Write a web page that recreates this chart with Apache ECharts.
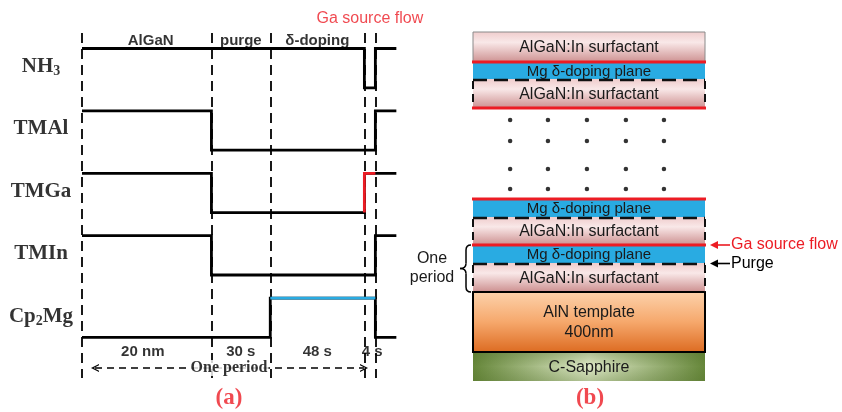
<!DOCTYPE html>
<html><head><meta charset="utf-8">
<script src="https://cdn.jsdelivr.net/npm/echarts@6/dist/echarts.min.js"></script>
<style>html,body{margin:0;padding:0;background:#fff}#c{width:842px;height:412px}</style>
</head><body><div id="c"></div>
<script>
// ---------------- data ----------------
// (a) pulse sequence: phases of one period (schematic time units, purge and δ-doping in s)
const phaseNames  = ['AlGaN', 'purge', 'δ-doping'];
const phaseSpan   = [66, 30, 48, 5.6, 10.7];          // AlGaN, purge, δ-doping, Ga flow, next period
const phaseBottom = ['20 nm', '30 s', '48 s', '4 s'];
const signals     = ['NH3', 'TMAl', 'TMGa', 'TMIn', 'Cp2Mg'];
const levelNH3    = [1, 1, 1, 0, 1];
const levelTMAl   = [1, 0, 0, 0, 1];
const levelTMGa   = [1, 0, 0, 1, 1];
const levelTMIn   = [1, 0, 0, 0, 1];
const levelCp2Mg  = [0, 0, 1, 1, 0];
const gaFlowPhase = 3;            // phase where the Ga source flows (red on TMGa)
const mgPhases    = [2, 3];       // phases where Cp2Mg is on (blue)
const periodLabel = 'One period';
const gaFlowLabel = 'Ga source flow';
const panelTags   = ['(a)', '(b)'];

// (b) layer stack, bottom to top (schematic thickness)
const layerNames = ['C-Sapphire', 'AlN template\n400nm', 'AlGaN:In surfactant', 'Mg δ-doping plane',
                    'AlGaN:In surfactant', 'Mg δ-doping plane', '', 'AlGaN:In surfactant',
                    'Mg δ-doping plane', 'AlGaN:In surfactant'];
const layerKind  = ['sapphire', 'aln', 'algan', 'mg', 'algan', 'mg', 'gap', 'algan', 'mg', 'cap'];
const layerThick = [29, 60, 29, 18, 28, 18, 91, 29, 17, 30];
const dotCols    = [0.16, 0.323, 0.491, 0.659, 0.823];
const dotRows    = [261, 240, 212, 192];
const sideNotes  = ['Ga source flow', 'Purge'];
const periodNote = ['One', 'period'];

// ---------------- layout ----------------
const PX = 1.961, X0 = 82;                 // px per time unit, px of period start
const xA = px => (px - X0) / PX;
const ROW_TOP = 48.5, ROW_GAP = 62.4, SWING = 39.3;
const DASH_TOP = 33, DASH_BOT = 378;
const BX0 = 473, BW = 232, BY0 = 381;
const RED = '#ec1c24', BLUE = '#29abe2';
const SERIF = 'Liberation Serif', SANS = 'Liberation Sans';

const B = [0];
phaseSpan.forEach(s => B.push(B[B.length - 1] + s));
const levels = [levelNH3, levelTMAl, levelTMGa, levelTMIn, levelCp2Mg];
const rowHigh = k => ROW_TOP + k * ROW_GAP;
const yOf = (k, lv) => rowHigh(k) + (1 - lv) * SWING;
function stepData(k) {
  const L = levels[k];
  const pts = [[B[0], yOf(k, L[0])]];
  for (let i = 1; i < L.length; i++) {
    if (L[i] !== L[i - 1]) pts.push([B[i], yOf(k, L[i - 1])], [B[i], yOf(k, L[i])]);
  }
  pts.push([B[B.length - 1], yOf(k, L[L.length - 1])]);
  return pts;
}
const mid = i => (B[i] + B[i + 1]) / 2;

const lineSeries = signals.map((s, k) => ({
  type: 'line', xAxisIndex: 0, yAxisIndex: 0, data: stepData(k), symbol: 'none', silent: true, z: 3,
  lineStyle: { color: '#000', width: 2.8, cap: 'butt', join: 'miter' }
}));
// dashed phase boundaries
lineSeries[0].markLine = {
  silent: true, z: 1, symbol: ['none', 'none'], label: { show: false }, animation: false,
  lineStyle: { type: [10, 6], color: '#000', width: 1.8 },
  data: B.slice(0, 5).map(b => [{ coord: [b, DASH_TOP] }, { coord: [b, DASH_BOT] }])
};
// one period arrow
const chevron = 'path://M0,9 L5,0 L10,9 L8.4,9 L5,3 L1.6,9 Z';
lineSeries[1].markLine = {
  silent: true, z: 1, symbol: [chevron, chevron], symbolSize: [8, 8], label: { show: false }, animation: false,
  lineStyle: { type: [7, 5], color: '#000', width: 1.6 },
  data: [[{ coord: [xA(95), 368] }, { coord: [xA(364), 368] }]]
};
const tg = signals.indexOf('TMGa'), mg = signals.indexOf('Cp2Mg');
const overlays = [
  { type: 'line', xAxisIndex: 0, yAxisIndex: 0, symbol: 'none', silent: true, z: 4,
    lineStyle: { color: RED, width: 2.8, join: 'miter' },
    data: [[B[gaFlowPhase], yOf(tg, 0)], [B[gaFlowPhase], yOf(tg, 1)], [B[gaFlowPhase + 1], yOf(tg, 1)]] },
  { type: 'line', xAxisIndex: 0, yAxisIndex: 0, symbol: 'none', silent: true, z: 4,
    lineStyle: { color: BLUE, width: 2.8 },
    data: [[B[mgPhases[0]], yOf(mg, 1)], [B[mgPhases[mgPhases.length - 1] + 1], yOf(mg, 1)]] }
];

// text labels of panel (a)
const txt = (x, y, text, style) => ({ value: [x, y], label: Object.assign({ show: true, position: 'inside', formatter: text, color: '#000' }, style) });
const aTexts = [];
signals.forEach((s, k) => {
  aTexts.push(txt(xA(41), rowHigh(k) + SWING / 2 - 1.5, s.replace(/(\d)/g, '{s|$1}'), {
    fontFamily: SERIF, fontWeight: 'bold', fontSize: 21,
    rich: { s: { fontFamily: SERIF, fontWeight: 'bold', fontSize: 14, padding: [10, 0, 0, 0] } }
  }));
});
phaseNames.forEach((n, i) => aTexts.push(txt(mid(i) + (i === 0 ? 2 : 0), 41, n, { fontFamily: SANS, fontWeight: 'bold', fontSize: 15 })));
phaseBottom.forEach((n, i) => aTexts.push(txt(mid(i) + (i === 3 ? 1.2 : 0) - (i === 0 ? 2 : 0), 352, n, { fontFamily: SANS, fontWeight: 'bold', fontSize: 15 })));
aTexts.push(txt(xA(229), 368, periodLabel, { fontFamily: SERIF, fontWeight: 'bold', fontSize: 16, backgroundColor: '#fff', padding: [0, 1] }));
aTexts.push(txt(mid(gaFlowPhase), 19, gaFlowLabel, { fontFamily: SANS, fontSize: 16, color: RED }));
aTexts.push(txt(xA(229), 398, panelTags[0], { fontFamily: SERIF, fontWeight: 'bold', fontSize: 23, color: RED }));

// ---------------- panel (b) ----------------
const bounds = [];
let acc = 0;
layerThick.forEach(t => { bounds.push([acc, acc + t]); acc += t; });

const pink = { type: 'linear', x: 0, y: 0, x2: 0, y2: 1, colorStops: [
  { offset: 0, color: '#efcccc' }, { offset: 0.35, color: '#f9e8e8' }, { offset: 1, color: '#cd9090' }] };
const orange = { type: 'linear', x: 0, y: 0, x2: 0, y2: 1, colorStops: [
  { offset: 0, color: '#fcd3ad' }, { offset: 0.5, color: '#f6a86c' }, { offset: 1, color: '#dc6a20' }] };
const green = { type: 'linear', x: 0, y: 0, x2: 1, y2: 0, colorStops: [
  { offset: 0, color: '#66873a' }, { offset: 0.5, color: '#dfe9c8' }, { offset: 1, color: '#66873a' }] };
const greenV = { type: 'linear', x: 0, y: 0, x2: 0, y2: 1, colorStops: [
  { offset: 0, color: 'rgba(80,110,40,0.35)' }, { offset: 0.5, color: 'rgba(80,110,40,0)' }, { offset: 1, color: 'rgba(80,110,40,0.3)' }] };

function renderLayer(params, api) {
  const i = params.dataIndex, kind = layerKind[i];
  const p0 = api.coord([0, api.value(1)]), p1 = api.coord([1, api.value(0)]);
  const x = p0[0], y = p0[1], w = p1[0] - p0[0], h = p1[1] - p0[1];
  const ch = [];
  const redLine = yy => ({ type: 'line', z2: 12, shape: { x1: x - 1, y1: yy, x2: x + w + 1, y2: yy }, style: { stroke: RED, lineWidth: 3 } });
  if (kind === 'gap') { ch.push(redLine(y)); return { type: 'group', children: ch }; }
  let fill = pink, stroke = null, lw = 0, fs = 16;
  if (kind === 'mg') { fill = BLUE; fs = 15; }
  if (kind === 'aln') { fill = orange; stroke = '#000'; lw = 2; }
  if (kind === 'sapphire') { fill = green; }
  if (kind === 'cap') { stroke = '#8a8a8a'; lw = 1; }
  ch.push({ type: 'rect', shape: { x, y, width: w, height: h }, style: { fill, stroke, lineWidth: lw }, z2: kind === 'aln' ? 5 : 0 });
  if (kind === 'sapphire') ch.push({ type: 'rect', shape: { x, y, width: w, height: h }, style: { fill: greenV }, z2: 1 });
  ch.push({ type: 'text', z2: 20, style: { text: layerNames[i], x: x + w / 2, y: y + h / 2 + 1, align: 'center', verticalAlign: 'middle',
    fontFamily: SANS, fontSize: fs, lineHeight: 20, fill: '#1a1a1a' } });
  if (kind === 'mg') {
    ch.push(redLine(y));
    ch.push({ type: 'line', z2: 11, shape: { x1: x, y1: y + h + 1, x2: x + w, y2: y + h + 1 }, style: { stroke: '#111', lineWidth: 2.5, lineDash: [14, 7] } });
  }
  if (kind === 'algan') {
    [x, x + w].forEach(xx => ch.push({ type: 'line', z2: 10, shape: { x1: xx, y1: y + 2, x2: xx, y2: y + h }, style: { stroke: '#111', lineWidth: 2, lineDash: [8, 5] } }));
  }
  return { type: 'group', children: ch };
}

function renderNotes(params, api) {
  const mgL = bounds[3], alL = bounds[2];
  const yTop = api.coord([0, mgL[1]])[1], yPur = api.coord([0, mgL[0]])[1], yBot = api.coord([0, alL[0]])[1];
  const xl = api.coord([0, 0])[0], xr = api.coord([1, 0])[0];
  const ym = (yTop + yBot) / 2;
  const ch = [];
  // arrows + notes
  [[yTop, RED, sideNotes[0]], [yPur + 0.5, '#000', sideNotes[1]]].forEach(([yy, col, t]) => {
    ch.push({ type: 'line', shape: { x1: xr + 25, y1: yy, x2: xr + 12, y2: yy }, style: { stroke: col, lineWidth: 1.6 } });
    ch.push({ type: 'polygon', shape: { points: [[xr + 5, yy], [xr + 13, yy - 4], [xr + 13, yy + 4]] }, style: { fill: col } });
    ch.push({ type: 'text', style: { text: t, x: xr + 26, y: yy, align: 'left', verticalAlign: 'middle', fontFamily: SANS, fontSize: 16, fill: col } });
  });
  // brace
  const bs = { stroke: '#000', lineWidth: 1.5, fill: null };
  const e = xl - 2, s = xl - 7, t = xl - 13, r = 5;
  ch.push({ type: 'bezierCurve', shape: { x1: e, y1: yTop, cpx1: s, cpy1: yTop, x2: s, y2: yTop + r }, style: bs });
  ch.push({ type: 'line', shape: { x1: s, y1: yTop + r, x2: s, y2: ym - r }, style: bs });
  ch.push({ type: 'bezierCurve', shape: { x1: s, y1: ym - r, cpx1: s, cpy1: ym, x2: t, y2: ym }, style: bs });
  ch.push({ type: 'bezierCurve', shape: { x1: t, y1: ym, cpx1: s, cpy1: ym, x2: s, y2: ym + r }, style: bs });
  ch.push({ type: 'line', shape: { x1: s, y1: ym + r, x2: s, y2: yBot - r }, style: bs });
  ch.push({ type: 'bezierCurve', shape: { x1: s, y1: yBot - r, cpx1: s, cpy1: yBot, x2: e, y2: yBot }, style: bs });
  periodNote.forEach((n, j) => ch.push({ type: 'text', style: { text: n, x: xl - 41, y: ym - 9.5 + 19 * j, align: 'center', verticalAlign: 'middle', fontFamily: SANS, fontSize: 16, fill: '#1a1a1a' } }));
  return { type: 'group', children: ch };
}

const dots = [];
dotRows.forEach(r => dotCols.forEach(c => dots.push([c, r])));

const option = {
  animation: false,
  grid: [{ left: 0, top: 0, width: 421, height: 412 }, { left: 400, top: 0, width: 442, height: 412 }],
  xAxis: [
    { gridIndex: 0, type: 'value', min: xA(0), max: xA(421), show: false },
    { gridIndex: 1, type: 'value', min: (400 - BX0) / BW, max: (842 - BX0) / BW, show: false }
  ],
  yAxis: [
    { gridIndex: 0, type: 'value', inverse: true, min: 0, max: 412, show: false },
    { gridIndex: 1, type: 'value', min: BY0 - 412, max: BY0, show: false }
  ],
  series: [
    ...lineSeries, ...overlays,
    { type: 'scatter', xAxisIndex: 0, yAxisIndex: 0, symbolSize: 1, itemStyle: { color: 'transparent' }, silent: true, z: 6, data: aTexts },
    { type: 'custom', xAxisIndex: 1, yAxisIndex: 1, silent: true, renderItem: renderLayer,
      data: bounds.map(b => [b[0], b[1]]) },
    { type: 'custom', xAxisIndex: 1, yAxisIndex: 1, silent: true, renderItem: renderNotes, data: [[0, 0]] },
    { type: 'scatter', xAxisIndex: 1, yAxisIndex: 1, symbolSize: 4.5, itemStyle: { color: '#000' }, silent: true, data: dots },
    { type: 'scatter', xAxisIndex: 1, yAxisIndex: 1, symbolSize: 1, itemStyle: { color: 'transparent' }, silent: true,
      data: [txt((590 - BX0) / BW, BY0 - 398, panelTags[1], { fontFamily: SERIF, fontWeight: 'bold', fontSize: 23, color: RED })] }
  ]
};
const chart = echarts.init(document.getElementById('c'), null, { renderer: 'canvas' });
chart.setOption(option);
</script>
</body></html>
